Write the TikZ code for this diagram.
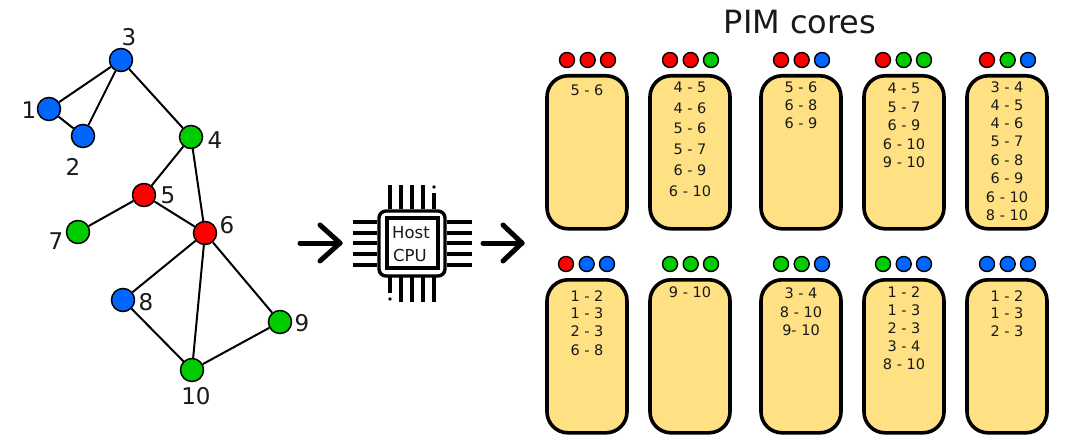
\documentclass[tikz,border=0pt]{standalone}
\usepackage{fontspec}
\setmainfont{DejaVu Sans}
\definecolor{nblue}{HTML}{0066FF}
\definecolor{nred}{HTML}{FF0000}
\definecolor{ngreen}{HTML}{00CC00}
\definecolor{cardfill}{HTML}{FFE183}
\tikzset{
  gnode/.style={circle,draw=black,line width=1.5pt,minimum size=23pt,inner sep=0pt},
  glabel/.style={inner sep=0pt,font=\fontsize{23}{23}\selectfont,text=black!90},
  gedge/.style={line width=2pt,black},
  card/.style={draw=black,line width=3.6pt,fill=cardfill,rounded corners=21pt,minimum width=80pt,minimum height=153pt,inner sep=0pt},
  dotnode/.style={circle,draw=black,line width=1.4pt,minimum size=15pt,inner sep=0pt},
  edgetext/.style={inner sep=0pt,font=\fontsize{14.5}{14.5}\selectfont,text=black!90},
  bigarrow/.style={line width=5pt,line cap=round,line join=round,black},
  pin/.style={line width=3.4pt,black},
}
\newcommand{\pimcard}[7]{%
  % #1 centre x, #2 top y, #3-5 dot colours, #6 dot left x, #7 list of y/text
  \node[card,anchor=north] (card#1#2) at (#1,#2) {};
  \node[dotnode,fill=#3] (dota#1#2) at (#6,#2-14) {};
  \node[dotnode,fill=#4] (dotb#1#2) at (#6+20.7,#2-14) {};
  \node[dotnode,fill=#5] (dotc#1#2) at (#6+41,#2-14) {};
  \foreach \ly/\lt in {#7} {
    \node[edgetext] (txt#1\ly) at (#1,\ly) {\lt};
  }
}
\begin{document}
\begin{tikzpicture}[x=1pt,y=-1pt]
\useasboundingbox (0,0) rectangle (1076,444);
% graph
\node[gnode,fill=nblue] (n1) at (49,109) {};
\node[gnode,fill=nblue] (n2) at (83,136) {};
\node[gnode,fill=nblue] (n3) at (121,60) {};
\node[gnode,fill=ngreen] (n4) at (191,137) {};
\node[gnode,fill=nred] (n5) at (144,195) {};
\node[gnode,fill=nred] (n6) at (205,233) {};
\node[gnode,fill=ngreen] (n7) at (78,232) {};
\node[gnode,fill=nblue] (n8) at (123,300) {};
\node[gnode,fill=ngreen] (n9) at (280,322) {};
\node[gnode,fill=ngreen] (n10) at (192,370) {};
\foreach \a/\b in {n1/n2,n1/n3,n2/n3,n3/n4,n4/n5,n4/n6,n5/n6,n5/n7,n6/n8,n6/n9,n6/n10,n8/n10,n9/n10}
  \draw[gedge] (\a) -- (\b);
\node[glabel] (l1) at (29,110) {1};
\node[glabel] (l2) at (73,167) {2};
\node[glabel] (l3) at (129,37) {3};
\node[glabel] (l4) at (215,140) {4};
\node[glabel] (l5) at (168,195) {5};
\node[glabel] (l6) at (227,225) {6};
\node[glabel] (l7) at (56,241) {7};
\node[glabel] (l8) at (146,302) {8};
\node[glabel] (l9) at (302,323) {9};
\node[glabel] (l10) at (196,396) {10};
% arrows
\coordinate (a1s) at (300,243);
\coordinate (a1e) at (340,243);
\coordinate (a2s) at (483,243);
\coordinate (a2e) at (522,243);
\draw[bigarrow] (a1s) -- (a1e);
\draw[bigarrow] (320,225) -- (a1e) -- (320,261);
\draw[bigarrow] (a2s) -- (a2e);
\draw[bigarrow] (503,225) -- (a2e) -- (503,261);
% chip
\foreach \px in {390,401,412,423} \draw[pin] (\px,185) -- (\px,209);
\draw[pin] (434,193) -- (434,209);
\fill (434,187) circle (1.8pt);
\foreach \px in {401,412,423,434} \draw[pin] (\px,277) -- (\px,302);
\draw[pin] (390,277) -- (390,293);
\fill (390,299) circle (1.8pt);
\foreach \py in {222,233,243,254,265} {
  \draw[pin] (353,\py) -- (377,\py);
  \draw[pin] (447,\py) -- (472,\py);
}
\draw[line width=3.4pt,fill=white,rounded corners=7pt] (379,211) rectangle (445,276);
\node[draw=black,line width=3.4pt,minimum width=51pt,minimum height=50pt,inner sep=0pt,fill=white] (cpu) at (412.5,243) {};
\node[inner sep=0pt,font=\fontsize{16.5}{16.5}\selectfont,text=black!90] (hostlab) at (411,233) {Host};
\node[inner sep=0pt,font=\fontsize{16.5}{16.5}\selectfont,text=black!90] (cpulab) at (410,255) {CPU};
% title
\node[inner sep=0pt,font=\fontsize{32}{32}\selectfont,text=black!90] (title) at (800,22) {PIM cores};
% cards top
\pimcard{587}{74}{nred}{nred}{nred}{567}{90/5 - 6}
\pimcard{690}{74}{nred}{nred}{ngreen}{670}{87/4 - 5,108/4 - 6,128/5 - 6,149/5 - 7,170/6 - 9,191/6 - 10}
\pimcard{801}{74}{nred}{nred}{nblue}{781}{87/5 - 6,105/6 - 8,123/6 - 9}
\pimcard{904}{74}{nred}{ngreen}{ngreen}{883}{88/4 - 5,107/5 - 7,125/6 - 9,144/6 - 10,162/9 - 10}
\pimcard{1007}{74}{nred}{ngreen}{nblue}{987}{87/3 - 4,105/4 - 5,123/4 - 6,141/5 - 7,160/6 - 8,178/6 - 9,197/6 - 10,215/8 - 10}
% cards bottom
\pimcard{587}{278}{nred}{nblue}{nblue}{566}{296/1 - 2,313/1 - 3,331/2 - 3,350/6 - 8}
\pimcard{690}{278}{ngreen}{ngreen}{ngreen}{670}{292/9 - 10}
\pimcard{801}{278}{ngreen}{ngreen}{nblue}{781}{293/3 - 4,312/8 - 10,330/9- 10}
\pimcard{904}{278}{ngreen}{nblue}{nblue}{883}{292/1 - 2,310/1 - 3,328/2 - 3,346/3 - 4,364/8 - 10}
\pimcard{1007}{278}{nblue}{nblue}{nblue}{987}{296/1 - 2,313/1 - 3,331/2 - 3}
\end{tikzpicture}
\end{document}
